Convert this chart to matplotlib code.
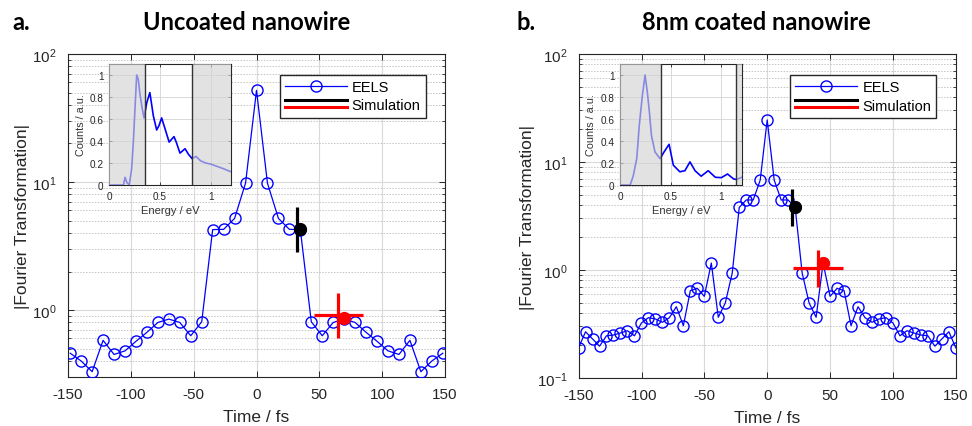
import numpy as np
import matplotlib
matplotlib.use("Agg")
import matplotlib.pyplot as plt
from matplotlib.lines import Line2D
from matplotlib.legend_handler import HandlerBase
from matplotlib.ticker import LogLocator, NullFormatter

plt.rcParams['font.family'] = ['Liberation Sans', 'DejaVu Sans']
plt.rcParams['mathtext.fontset'] = 'custom'
plt.rcParams['mathtext.rm'] = 'Liberation Sans'
plt.rcParams['mathtext.it'] = 'Liberation Sans:italic'
plt.rcParams['mathtext.bf'] = 'Liberation Sans:bold'
plt.rcParams['axes.unicode_minus'] = False

# ---------------- data ----------------
dt_a = 8.72   # fs, sampling step of panel a
dt_b = 5.56   # fs, sampling step of panel b
eels_a = [0.46, 0.40, 0.33, 0.58, 0.45, 0.48, 0.57, 0.67, 0.80, 0.85, 0.80, 0.63,
          0.81, 4.25, 4.27, 5.2, 9.8, 52.0, 9.8, 5.2, 4.27, 4.25, 0.81, 0.63,
          0.80, 0.85, 0.80, 0.67, 0.57, 0.48, 0.45, 0.58, 0.33, 0.40, 0.46]
eels_b = [0.19, 0.268, 0.23, 0.197, 0.246, 0.25, 0.261, 0.274, 0.246, 0.323, 0.362,
          0.352, 0.328, 0.362, 0.457, 0.305, 0.644, 0.676, 0.57, 1.16, 0.365, 0.495,
          0.94, 3.8, 4.45, 4.45, 6.8, 24.5, 6.8, 4.45, 4.45, 3.8, 0.94, 0.495, 0.365,
          1.16, 0.57, 0.676, 0.644, 0.305, 0.457, 0.362, 0.328, 0.352, 0.362, 0.323,
          0.246, 0.274, 0.261, 0.25, 0.246, 0.197, 0.23, 0.268, 0.19]

# simulation markers: dot (t, y), vertical bar (vt, vlo..vhi), horizontal bar (hy, hlo..hhi)
sim_black_a = dict(t=34.8, y=4.27, vt=32.2, vlo=2.84, vhi=6.4)
sim_red_a = dict(t=69.4, y=0.86, vt=64.9, vlo=0.61, vhi=1.35, hy=0.915, hlo=45.5, hhi=84.8)
sim_black_b = dict(t=22.3, y=3.8, vt=19.9, vlo=2.54, vhi=5.6)
sim_red_b = dict(t=44.6, y=1.16, vt=40.6, vlo=0.69, vhi=1.54, hy=1.04, hlo=20.7, hhi=60.5)

# inset spectra
E_a = [0, 0.14, 0.155, 0.175, 0.197, 0.22, 0.237, 0.253, 0.27, 0.286, 0.30, 0.32,
       0.342, 0.37, 0.40, 0.434, 0.467, 0.49, 0.516, 0.55, 0.59, 0.638, 0.66, 0.697,
       0.747, 0.78, 0.816, 0.855, 0.90, 0.95, 1.0, 1.06, 1.12, 1.2]
C_a = [0, 0, 0.07, 0.02, 0.0, 0.145, 0.39, 0.69, 1.0, 0.96, 0.84, 0.72,
       0.61, 0.75, 0.84, 0.63, 0.50, 0.54, 0.61, 0.51, 0.39, 0.44, 0.39, 0.29,
       0.33, 0.28, 0.24, 0.26, 0.22, 0.20, 0.19, 0.17, 0.15, 0.12]
E_b = [0, 0.10, 0.13, 0.165, 0.19, 0.22, 0.247, 0.27, 0.29, 0.31, 0.345, 0.395,
       0.434, 0.484, 0.526, 0.59, 0.64, 0.69, 0.74, 0.80, 0.87, 0.94, 1.0, 1.06,
       1.12, 1.15, 1.2]
C_b = [0, 0, 0.08, 0.24, 0.54, 0.81, 1.0, 0.84, 0.66, 0.45, 0.30, 0.24,
       0.30, 0.37, 0.18, 0.12, 0.13, 0.21, 0.13, 0.08, 0.13, 0.07, 0.067, 0.10,
       0.055, 0.05, 0.07]
window_a = (0.35, 0.82)
window_b = (0.40, 1.14)

titles = ["Uncoated nanowire", "8nm coated nanowire"]
letters = ["a.", "b."]

# ---------------- figure ----------------
W, H = 972, 427
fig = plt.figure(figsize=(W / 100, H / 100), dpi=100)


def fx(px):
    return px / W


def fy(py):
    return 1 - py / H


BLUE = '#0000ff'
EDGE = '#262626'


class HandlerTwoLines(HandlerBase):
    def create_artists(self, legend, orig_handle, xdescent, ydescent, width,
                       height, fontsize, trans):
        yc = height / 2 - ydescent
        l1 = Line2D([-xdescent, width - xdescent], [yc + 3.0, yc + 3.0],
                    color='black', lw=2.2, transform=trans)
        l2 = Line2D([-xdescent, width - xdescent], [yc - 2.2, yc - 2.2],
                    color='red', lw=2.2, transform=trans)
        return [l1, l2]


def main_axes(rect, dt, vals, ylim, black, red, leg_anchor):
    ax = fig.add_axes(rect)
    n = (len(vals) - 1) // 2
    t = dt * np.arange(-n, n + 1)
    ax.plot(t, vals, '-o', color=BLUE, lw=0.9, ms=8, mfc='none', mec=BLUE,
            mew=1.0, zorder=3)
    ax.plot([black['vt'], black['vt']], [black['vlo'], black['vhi']], color='black',
            lw=2.3, zorder=4, solid_capstyle='butt')
    ax.plot([black['t']], [black['y']], 'o', color='black', ms=8.5, zorder=5)
    ax.plot([red['vt'], red['vt']], [red['vlo'], red['vhi']], color='red',
            lw=2.3, zorder=4, solid_capstyle='butt')
    ax.plot([red['hlo'], red['hhi']], [red['hy'], red['hy']], color='red',
            lw=2.3, zorder=4, solid_capstyle='butt')
    ax.plot([red['t']], [red['y']], 'o', color='red', ms=8.5, zorder=5)

    ax.set_yscale('log')
    ax.set_xlim(-150, 150)
    ax.set_ylim(*ylim)
    ax.set_xticks([-150, -100, -50, 0, 50, 100, 150])
    ax.yaxis.set_major_locator(LogLocator(base=10, numticks=10))
    ax.yaxis.set_minor_locator(LogLocator(base=10, subs=np.arange(2, 10), numticks=20))
    ax.yaxis.set_minor_formatter(NullFormatter())
    ax.grid(True, which='major', color='#d9d9d9', lw=0.8, ls='-')
    ax.grid(True, which='minor', axis='y', color='#c4c4c4', lw=0.7, ls=(0, (1.5, 1.5)))
    ax.set_axisbelow(True)
    ax.tick_params(which='both', direction='in', top=True, right=True,
                   labelsize=11, colors=EDGE, labelcolor='#262626')
    ax.tick_params(which='major', length=4.5, width=0.7)
    ax.tick_params(which='minor', length=2.5, width=0.6)
    ax.tick_params(axis='x', which='major', pad=7)
    ax.tick_params(axis='y', which='major', pad=8)
    for s in ax.spines.values():
        s.set_color(EDGE)
        s.set_linewidth(0.8)
    ax.set_xlabel('Time / fs', fontsize=12.5, color='#262626')
    ax.set_ylabel('|Fourier Transformation|', fontsize=12.5, color='#262626')
    ax.xaxis.set_label_coords(0.5, -0.098)

    eels_h = Line2D([], [], color=BLUE, lw=0.9, marker='o', ms=8, mfc='none', mec=BLUE)
    sim_h = Line2D([], [])
    leg = ax.legend([eels_h, sim_h], ['EELS', 'Simulation'],
                    handler_map={sim_h: HandlerTwoLines()},
                    loc='upper right', bbox_to_anchor=leg_anchor, fontsize=10.5,
                    frameon=True, fancybox=False, edgecolor=EDGE, framealpha=1,
                    handlelength=4.25, handletextpad=0.35, labelspacing=0.3,
                    borderpad=0.35, borderaxespad=0, numpoints=1)
    leg.get_frame().set_linewidth(1.0)
    leg.set_zorder(10)
    return ax


def inset_axes(rect, E, C, window):
    ax = fig.add_axes(rect)
    ax.plot(E, C, '-', color=BLUE, lw=1.2, zorder=2)
    ax.axvspan(0, window[0], color='#d3d3d3', alpha=0.65, lw=0, zorder=3)
    ax.axvspan(window[1], 1.2, color='#d3d3d3', alpha=0.65, lw=0, zorder=3)
    ax.axvline(window[0], color='#333333', lw=1.0, zorder=4)
    ax.axvline(window[1], color='#333333', lw=1.0, zorder=4)
    ax.set_xlim(0, 1.2)
    ax.set_ylim(0, 1.1)
    ax.set_xticks([0, 0.5, 1])
    ax.set_xticklabels(['0', '0.5', '1'])
    ax.set_yticks([0, 0.2, 0.4, 0.6, 0.8, 1])
    ax.set_yticklabels(['0', '0.2', '0.4', '0.6', '0.8', '1'])
    ax.grid(True, color='#d9d9d9', lw=0.7)
    ax.set_axisbelow(True)
    ax.tick_params(direction='in', top=True, right=True, labelsize=7.2, length=2.5,
                   width=0.6, colors=EDGE, pad=4)
    for s in ax.spines.values():
        s.set_color(EDGE)
        s.set_linewidth(0.8)
    ax.set_xlabel('Energy / eV', fontsize=8, color='#333333', labelpad=3)
    ax.set_ylabel('Counts / a.u.', fontsize=7.8, color='#333333', labelpad=3)
    ax.set_facecolor('white')
    return ax


# panel a
axa = main_axes([fx(68), fy(378), fx(377), 323 / H], dt_a, eels_a, (0.3, 100),
                sim_black_a, sim_red_a, (0.9488, 0.935))
axa.yaxis.set_label_coords(-0.10, 0.5)
# panel b
axb = main_axes([fx(578.7), fy(379), fx(377), 324 / H], dt_b, eels_b, (0.1, 100),
                sim_black_b, sim_red_b, (0.9488, 0.935))
axb.yaxis.set_label_coords(-0.116, 0.5)

inset_axes([fx(109.3), fy(186), fx(121.7), 121 / H], E_a, C_a, window_a)
inset_axes([fx(620), fy(186), fx(121.7), 121 / H], E_b, C_b, window_b)

# titles
tfont = dict(fontsize=17, fontweight='bold', family=['Lato', 'DejaVu Sans'],
             va='center', color='black')
fig.text(fx(12), fy(22), letters[0], ha='left', **tfont)
fig.text(fx(247), fy(22), titles[0], ha='center', **tfont)
fig.text(fx(517), fy(22), letters[1], ha='left', **tfont)
fig.text(fx(756), fy(22), titles[1], ha='center', **tfont)

fig.savefig('out.png', dpi=100, facecolor='white')
